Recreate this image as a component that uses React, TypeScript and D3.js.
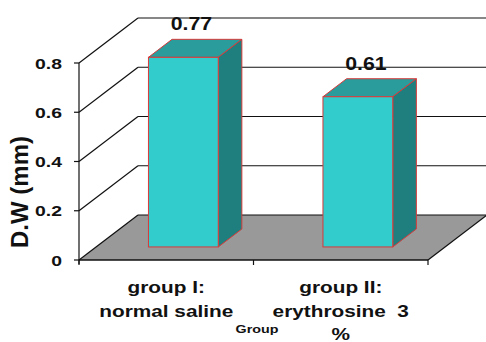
import React from "react";
import * as d3 from "d3";

const categories: string[][] = [
  ["group I:", "normal saline"],
  ["group II:", "erythrosine  3", "%"],
];
const values: number[] = [0.77, 0.61];
const valueLabels: string[] = ["0.77", "0.61"];
const yTicks: number[] = [0, 0.2, 0.4, 0.6, 0.8];
const yTickLabels: string[] = ["0", "0.2", "0.4", "0.6", "0.8"];
const yTitle = "D.W (mm)";
const xTitle = "Group";

const W = 486;
const H = 342;
const FONT = "'Liberation Sans', Arial, Helvetica, sans-serif";

function T(props: { x: number; y: number; sx?: number; size: number; anchor?: string; rot?: number; children: React.ReactNode }) {
  const { x, y, sx = 1.3, size, anchor = "middle", rot = 0, children } = props;
  return (
    <text
      transform={`translate(${x},${y}) scale(${sx},1)${rot ? ` rotate(${rot})` : ""}`}
      textAnchor={anchor as any}
      fontFamily={FONT}
      fontWeight="bold"
      fontSize={size}
      fill="#111"
      style={{ whiteSpace: "pre" }}
    >
      {children}
    </text>
  );
}

export default function App() {
  const x0 = 79, x1 = 428, yBase = 260, yTop = 63;
  const DX = 59, DY = -45; // wall depth offset
  const y = d3.scaleLinear().domain([0, 0.8]).range([yBase, yTop]);
  const x = d3.scaleBand<number>().domain(values.map((_, i) => i)).range([x0, x1]).paddingInner(0.6).paddingOuter(0.3);
  const dFront = 0.29, dBack = 0.69;
  const bw = x.bandwidth();

  const pt = (p: [number, number][]) => p.map((q) => q.join(",")).join(" ");

  return (
    <svg width={W} height={H} style={{ position: "absolute", left: 0, top: 0, background: "#fff" }}>
      {/* floor */}
      <polygon
        points={pt([[x0, yBase], [x1, yBase], [x1 + DX, yBase + DY], [x0 + DX, yBase + DY]])}
        fill="#999999"
        stroke="none"
      />
      {/* back wall gridlines */}
      {yTicks.map((t, i) => (
        <g key={"g" + i}>
          <line x1={x0 + DX} x2={W + 10} y1={y(t) + DY} y2={y(t) + DY} stroke="#111" strokeWidth={1.2} />
          <line x1={x0} x2={x0 + DX} y1={y(t)} y2={y(t) + DY} stroke="#111" strokeWidth={1.2} />
          <line x1={x0 - 5} x2={x0} y1={y(t)} y2={y(t)} stroke="#111" strokeWidth={1.2} />
          <T x={62} y={y(t) + 5.5} size={15.5} sx={1.25} anchor="end">
            {yTickLabels[i]}
          </T>
        </g>
      ))}
      {/* floor right edge */}
      <line x1={x1} y1={yBase} x2={x1 + DX} y2={yBase + DY} stroke="#111" strokeWidth={1.2} />
      {/* axes */}
      <line x1={x0} x2={x0} y1={yTop} y2={yBase + 4} stroke="#111" strokeWidth={1.2} />
      <line x1={x0} x2={x1} y1={yBase} y2={yBase} stroke="#111" strokeWidth={1.5} />
      {[x0, (x0 + x1) / 2, x1].map((tx, i) => (
        <line key={"xt" + i} x1={tx} x2={tx} y1={yBase} y2={yBase + 5} stroke="#111" strokeWidth={1.2} />
      ))}
      {/* bars */}
      {values.map((v, i) => {
        const fx = (x(i) as number) + DX * dFront;
        const fyB = yBase + DY * dFront;
        const fyT = y(v) + DY * dFront;
        const ox = DX * (dBack - dFront);
        const oy = DY * (dBack - dFront);
        const stroke = "#d83a3a";
        return (
          <g key={"b" + i}>
            <polygon points={pt([[fx, fyT], [fx + bw, fyT], [fx + bw + ox, fyT + oy], [fx + ox, fyT + oy]])} fill="#2a9c9c" stroke={stroke} strokeWidth={1} />
            <polygon points={pt([[fx + bw, fyT], [fx + bw + ox, fyT + oy], [fx + bw + ox, fyB + oy], [fx + bw, fyB]])} fill="#1f7f7f" stroke={stroke} strokeWidth={1} />
            <rect x={fx} y={fyT} width={bw} height={fyB - fyT} fill="#33cccc" stroke={stroke} strokeWidth={1} />
            <T x={fx + bw / 2 + 8} y={fyT + oy - 9} size={18.5} sx={1.15}>
              {valueLabels[i]}
            </T>
          </g>
        );
      })}
      {/* category labels */}
      {categories.map((lines, i) =>
        lines.map((l, j) => (
          <T key={"c" + i + "_" + j} x={(x(i) as number) + bw / 2} y={293 + j * 23.5} size={16}>
            {l}
          </T>
        ))
      )}
      <T x={257} y={333} size={11}>
        {xTitle}
      </T>
      <T x={28} y={192} size={24} sx={1.0} rot={-90}>
        {yTitle}
      </T>
    </svg>
  );
}
